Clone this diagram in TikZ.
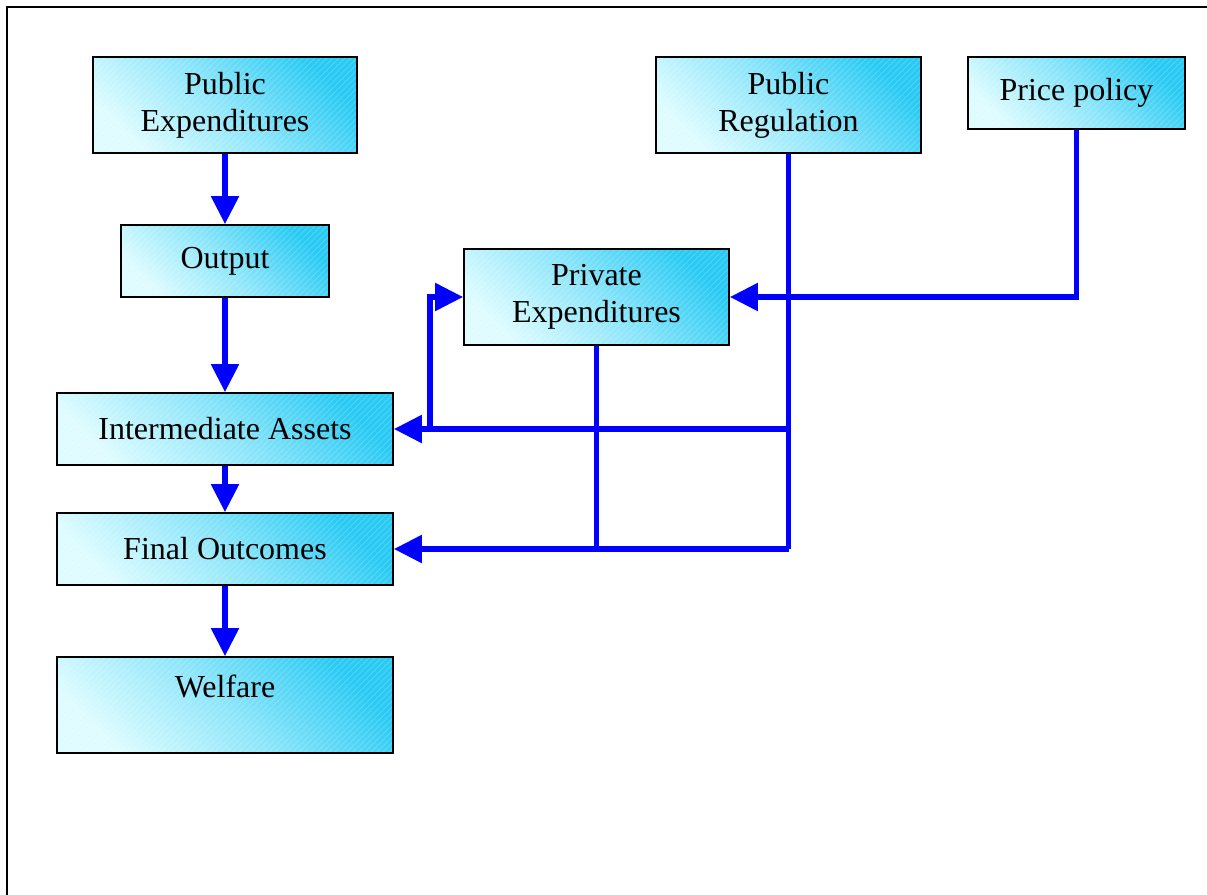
\documentclass[tikz,border=0pt]{standalone}
\usepackage{fontspec}
\setmainfont{Liberation Serif}
\usetikzlibrary{arrows.meta, patterns}

\definecolor{boxdeep}{RGB}{40,202,244}
\definecolor{boxlight}{RGB}{222,252,255}
\definecolor{flowblue}{RGB}{0,0,255}

\tikzset{
    stage/.style={draw=black, line width=0.9pt, inner sep=0pt, align=center,
        font=\fontsize{16}{18.5}\selectfont,
        preaction={top color=boxdeep, bottom color=boxlight, middle color=boxlight!55!boxdeep, shading angle=-45},
        preaction={pattern=north east lines, pattern color=white, opacity=0.2}},
    link/.style={draw=flowblue, line width=2.7pt},
    flow/.style={link, -{Triangle[length=14pt, width=13.5pt]}}
}

\begin{document}
\begin{tikzpicture}[x=0.5pt, y=-0.5pt]
    \useasboundingbox (0,0) rectangle (1207,895);

    % frame
    \draw [line width=1pt] (7,900) -- (7,7) -- (1212,7);

    % boxes on the left
    \node [stage, minimum width=132pt, minimum height=48pt] (pubexp) at (225,105) {Public\\Expenditures};
    \node [stage, minimum width=104pt, minimum height=36pt] (output) at (225,261) {Output};
    \node [stage, minimum width=168pt, minimum height=36pt] (inter) at (225,429) {Intermediate Assets};
    \node [stage, minimum width=168pt, minimum height=36pt] (final) at (225,549) {Final Outcomes};
    \node [stage, minimum width=168pt, minimum height=48pt] (welfare) at (225,705) {Welfare\\\mbox{}};

    % boxes on the right
    \node [stage, minimum width=132.5pt, minimum height=48pt] (privexp) at (596.5,297) {Private\\Expenditures};
    \node [stage, minimum width=132.5pt, minimum height=48pt] (pubreg) at (788.5,105) {Public\\Regulation};
    \node [stage, minimum width=108.5pt, minimum height=36pt] (price) at (1076.5,93) {Price policy};

    \coordinate (fb) at (430,429);

    % chain
    \draw [flow] (pubexp) -- (output);
    \draw [flow] (output) -- (inter);
    \draw [flow] (inter) -- (final);
    \draw [flow] (final) -- (welfare);

    % regulation and prices
    \draw [link] (pubreg.south) -- (pubreg.south |- final.east);
    \draw [flow] (pubreg.south |- inter.east) -- (inter.east);
    \draw [flow] (pubreg.south |- final.east) -- (final.east);
    \draw [flow] (price.south) |- (privexp.east);

    % private expenditures
    \draw [link] (privexp.south) -- (privexp.south |- final.east);
    \draw [flow] (fb) |- (privexp.west);
\end{tikzpicture}
\end{document}
